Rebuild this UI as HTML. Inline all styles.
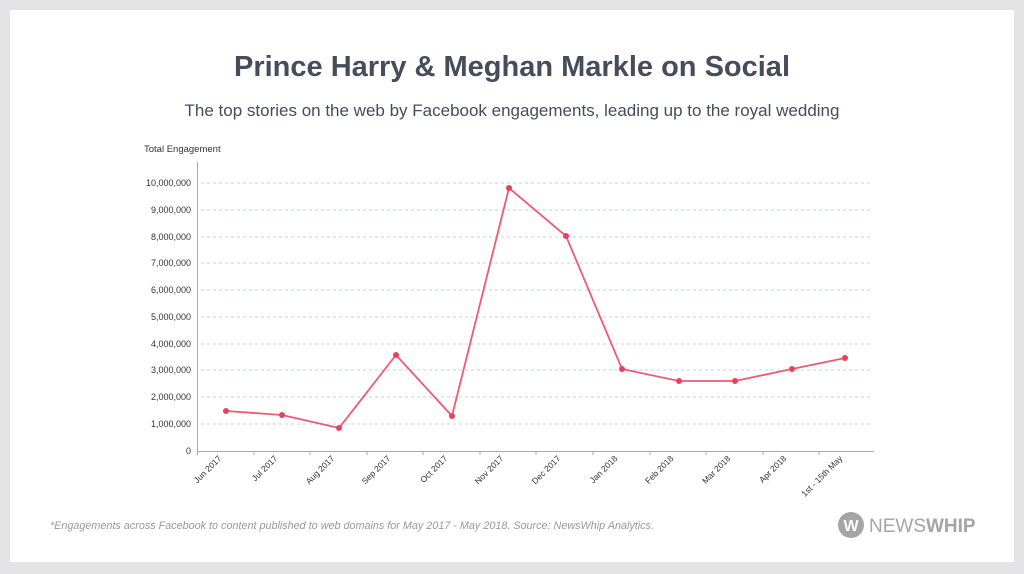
<!DOCTYPE html>
<html><head><style>
body{margin:0;background:#e4e4e6;width:1024px;height:574px;overflow:hidden;font-family:"Liberation Sans",sans-serif}
.card{position:absolute;left:10px;top:10px;width:1004px;height:552px;background:#fff}
</style></head><body>
<div class="card"></div>
<svg width="1024" height="574" style="position:absolute;left:0;top:0" font-family="Liberation Sans, sans-serif">
<text x="512" y="76" text-anchor="middle" font-size="29" font-weight="bold" fill="#474c5c">Prince Harry &amp; Meghan Markle on Social</text>
<text x="512" y="116" text-anchor="middle" font-size="17" fill="#474c5c">The top stories on the web by Facebook engagements, leading up to the royal wedding</text>
<text x="144" y="152" font-size="9.5" fill="#333">Total Engagement</text>
<g stroke="#bfd2f5" stroke-dasharray="3,3" stroke-width="1">
<line x1="201" x2="873" y1="183" y2="183"/><line x1="201" x2="873" y1="210" y2="210"/><line x1="201" x2="873" y1="237" y2="237"/><line x1="201" x2="873" y1="263" y2="263"/><line x1="201" x2="873" y1="290" y2="290"/><line x1="201" x2="873" y1="317" y2="317"/><line x1="201" x2="873" y1="344" y2="344"/><line x1="201" x2="873" y1="370" y2="370"/><line x1="201" x2="873" y1="397" y2="397"/><line x1="201" x2="873" y1="424" y2="424"/>
</g>
<g font-size="9" fill="#333" text-anchor="end">
<text x="191" y="186">10,000,000</text><text x="191" y="213">9,000,000</text><text x="191" y="240">8,000,000</text><text x="191" y="266">7,000,000</text><text x="191" y="293">6,000,000</text><text x="191" y="320">5,000,000</text><text x="191" y="347">4,000,000</text><text x="191" y="373">3,000,000</text><text x="191" y="400">2,000,000</text><text x="191" y="427">1,000,000</text><text x="191" y="454">0</text>
</g>
<g stroke="#aaa" stroke-width="1" fill="none">
<line x1="197.5" y1="162" x2="197.5" y2="455"/>
<line x1="197" y1="451.5" x2="874" y2="451.5"/>
<path d="M254 451v4M310 451v4M367 451v4M423 451v4M480 451v4M536 451v4M593 451v4M650 451v4M706 451v4M763 451v4M819 451v4"/>
</g>
<g font-size="8.5" fill="#333" text-anchor="end">
<text transform="translate(222,459) rotate(-45)">Jun 2017</text>
<text transform="translate(278,459) rotate(-45)">Jul 2017</text>
<text transform="translate(335,459) rotate(-45)">Aug 2017</text>
<text transform="translate(391,459) rotate(-45)">Sep 2017</text>
<text transform="translate(448,459) rotate(-45)">Oct 2017</text>
<text transform="translate(504,459) rotate(-45)">Nov 2017</text>
<text transform="translate(561,459) rotate(-45)">Dec 2017</text>
<text transform="translate(618,459) rotate(-45)">Jan 2018</text>
<text transform="translate(674,459) rotate(-45)">Feb 2018</text>
<text transform="translate(731,459) rotate(-45)">Mar 2018</text>
<text transform="translate(787,459) rotate(-45)">Apr 2018</text>
<text transform="translate(843,459) rotate(-45)">1st - 15th May</text>
</g>
<polyline fill="none" stroke="#ef5a72" stroke-width="1.8" points="226,411 282,415 339,428 396,355 452,416 509,188 566,236 622,369 679,381 735,381 792,369 845,358"/>
<g fill="#e8415c">
<circle cx="226" cy="411" r="3"/><circle cx="282" cy="415" r="3"/><circle cx="339" cy="428" r="3"/><circle cx="396" cy="355" r="3"/><circle cx="452" cy="416" r="3"/><circle cx="509" cy="188" r="3"/><circle cx="566" cy="236" r="3"/><circle cx="622" cy="369" r="3"/><circle cx="679" cy="381" r="3"/><circle cx="735" cy="381" r="3"/><circle cx="792" cy="369" r="3"/><circle cx="845" cy="358" r="3"/>
</g>
<text x="50" y="529" font-size="10.8" font-style="italic" fill="#999">*Engagements across Facebook to content published to web domains for May 2017 - May 2018. Source: NewsWhip Analytics.</text>
<circle cx="851" cy="525" r="13" fill="#a5a5a5"/>
<text x="851" y="531" text-anchor="middle" font-size="16" font-weight="bold" fill="#fff">W</text>
<text x="869" y="532" font-size="19" fill="#a5a5a5">NEWS<tspan font-weight="bold">WHIP</tspan></text>
</svg>
</body></html>
